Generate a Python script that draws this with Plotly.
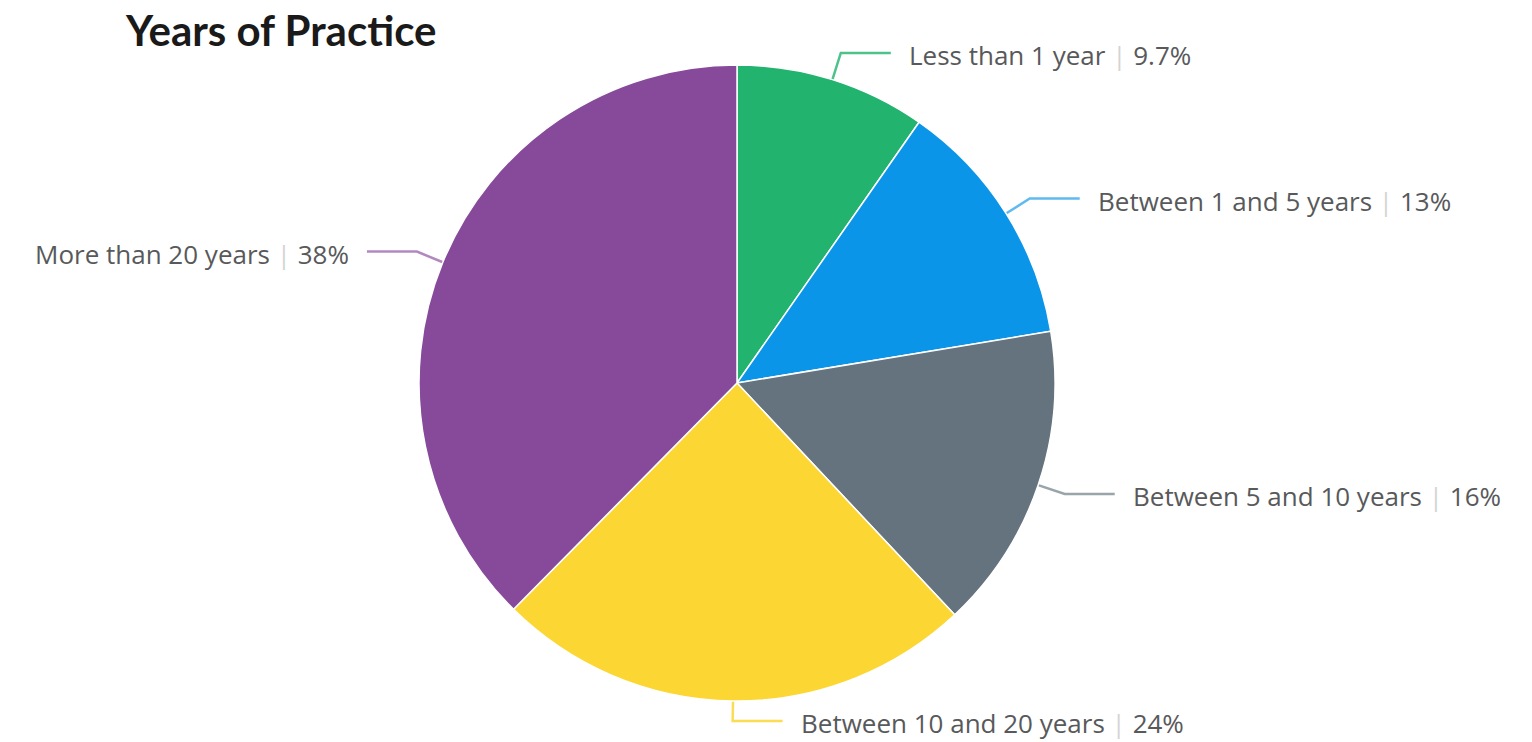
import math
import plotly.graph_objects as go

# ---- data ----
categories = ["Less than 1 year", "Between 1 and 5 years", "Between 5 and 10 years",
              "Between 10 and 20 years", "More than 20 years"]
values = [9.7, 12.7, 15.6, 24.4, 37.6]
colors = ["#22b36e", "#0b95e9", "#64737e", "#fcd734", "#874a9b"]
line_colors = ["rgba(34,179,110,0.8)", "rgba(11,149,233,0.65)", "rgba(100,115,126,0.65)",
               "rgba(252,215,52,0.85)", "rgba(135,74,155,0.65)"]
title_text = "Years of Practice"

# ---- layout geometry (pixels) ----
W, H = 1532, 742
CX, CY, R = 737, 383, 318
R_ELBOW = R + 28
SEG = 50
GAP = 16
Y_MAX = H - 21

fig = go.Figure()
fig.add_trace(go.Pie(
    labels=categories, values=values, sort=False, direction="clockwise", rotation=0,
    marker=dict(colors=colors, line=dict(color="white", width=1.5)),
    textinfo="none", hoverinfo="label+percent", showlegend=False,
    domain=dict(x=[(CX - R) / W, (CX + R) / W], y=[1 - (CY + R) / H, 1 - (CY - R) / H]),
))

total = sum(values)
cum = 0.0
annotations = []
for cat, v, lc in zip(categories, values, line_colors):
    mid = (cum + v / 2) / total * 2 * math.pi
    cum += v
    sx, sy = CX + R * math.sin(mid), CY - R * math.cos(mid)
    ex, ey = CX + R_ELBOW * math.sin(mid), min(CY - R_ELBOW * math.cos(mid), Y_MAX)
    right = math.sin(mid) > -0.05
    hx = ex + SEG if right else ex - SEG
    fig.add_trace(go.Scatter(x=[sx, ex, hx], y=[sy, ey, ey], mode="lines",
                             line=dict(color=lc, width=2.5), hoverinfo="skip",
                             showlegend=False, xaxis="x", yaxis="y"))
    pct = f"{v:.2g}"
    annotations.append(dict(
        x=hx + (GAP if right else -GAP), y=ey + 2, xref="x", yref="y",
        xanchor="left" if right else "right", yanchor="middle", showarrow=False,
        text=f"{cat} <span style='color:#d4d4d4'>|</span> {pct}%",
        font=dict(family="'Open Sans', Arial, sans-serif", size=26, color="#58595b"),
    ))

annotations.append(dict(
    x=123, y=30, xref="x", yref="y", xanchor="left", yanchor="middle",
    showarrow=False, text=f"<b>{title_text}</b>",
    font=dict(family="Lato, 'Open Sans', sans-serif", size=42, color="#1a1a1a"),
))

fig.update_layout(
    width=W, height=H, margin=dict(l=0, r=0, t=0, b=0),
    paper_bgcolor="white", plot_bgcolor="rgba(0,0,0,0)",
    xaxis=dict(range=[0, W], visible=False, fixedrange=True, domain=[0, 1]),
    yaxis=dict(range=[H, 0], visible=False, fixedrange=True, domain=[0, 1]),
    annotations=annotations,
)

fig.write_html(
    "out.html",
    config={"displayModeBar": False},
    post_script="document.body.style.margin='0';document.body.style.overflow='hidden';",
)
